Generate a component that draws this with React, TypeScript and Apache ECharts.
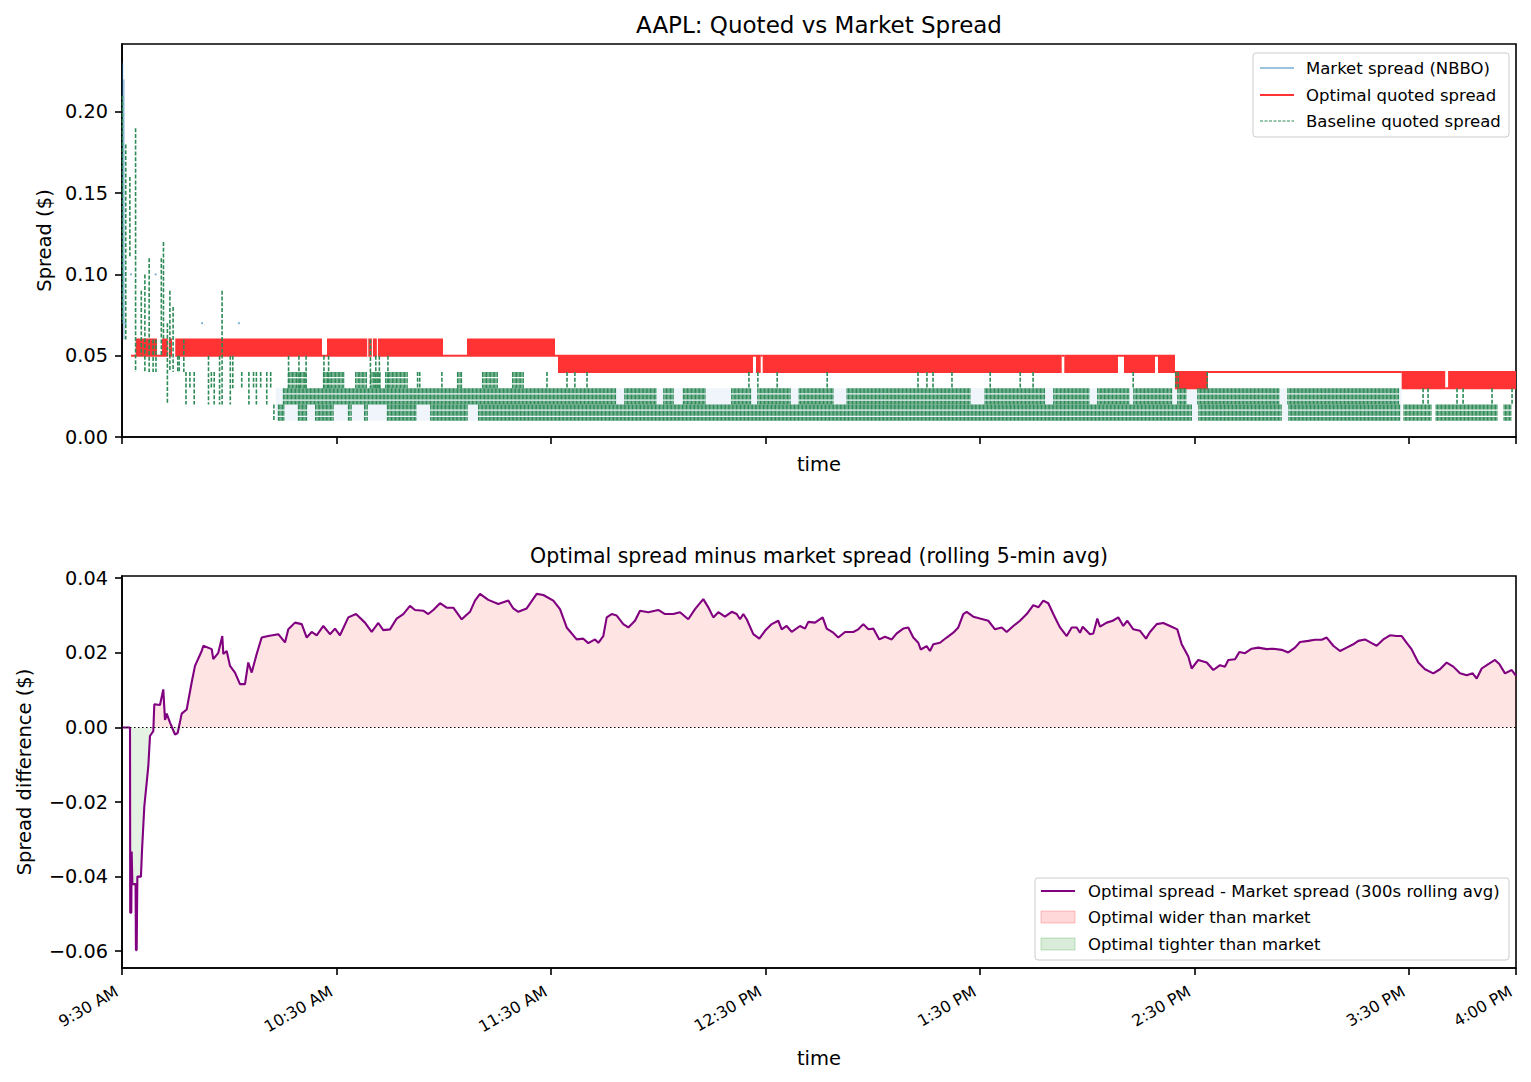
import React, { useEffect, useRef } from "react";
import * as echarts from "echarts";

const FONT = "'DejaVu Sans', 'Liberation Sans', sans-serif";

// Time is measured in minutes after the 9:30 open.
const sessionEnd = 390;
const timeTicks = [0, 60, 120, 180, 240, 300, 360, 390];
const timeTickLabels = ["9:30 AM", "10:30 AM", "11:30 AM", "12:30 PM", "1:30 PM", "2:30 PM", "3:30 PM", "4:00 PM"];
const spreadTicks = [0, 0.05, 0.1, 0.15, 0.2];
const diffTicks = [-0.06, -0.04, -0.02, 0, 0.02, 0.04];

// Optimal quoted spread: [start, end, low, high]. Where the quote flips between
// two ticks many times a second it reads as a band between the two levels.
const optimalRanges: number[][] = [
  [2.52, 3.83, 0.05, 0.05],
  [3.83, 9.79, 0.05, 0.06],
  [9.79, 11.19, 0.05, 0.05],
  [11.19, 12.8, 0.05, 0.06],
  [13.1, 14.0, 0.05, 0.06],
  [14.9, 55.95, 0.05, 0.06],
  [55.95, 57.35, 0.05, 0.05],
  [57.35, 68.6, 0.05, 0.06],
  [68.9, 69.9, 0.05, 0.06],
  [70.2, 71.3, 0.05, 0.06],
  [71.6, 89.81, 0.05, 0.06],
  [89.81, 96.52, 0.05, 0.05],
  [96.52, 121.14, 0.05, 0.06],
  [121.14, 121.98, 0.05, 0.05],
  [121.98, 176.53, 0.04, 0.05],
  [176.53, 177.37, 0.05, 0.05],
  [177.37, 178.69, 0.04, 0.05],
  [178.69, 179.25, 0.05, 0.05],
  [179.25, 262.9, 0.04, 0.05],
  [262.9, 263.63, 0.05, 0.05],
  [263.63, 278.65, 0.04, 0.05],
  [278.65, 280.33, 0.05, 0.05],
  [280.33, 289.0, 0.04, 0.05],
  [289.0, 289.84, 0.05, 0.05],
  [289.84, 294.6, 0.04, 0.05],
  [294.6, 303.83, 0.03, 0.04],
  [303.83, 358.02, 0.04, 0.04],
  [358.02, 370.2, 0.03, 0.04],
  [370.2, 371.0, 0.03, 0.03],
  [371.0, 390, 0.03, 0.04],
];

// Baseline quoted spread, stretches of rapid flipping: [start, end, low, high]
const baselineRanges: number[][] = [
  // 0.01 - 0.02
  [43.6, 45.6, 0.01, 0.02], [49.2, 51.8, 0.01, 0.02], [54.0, 59.6, 0.01, 0.02],
  [63.2, 64.4, 0.01, 0.02], [67.7, 68.8, 0.01, 0.02], [74.1, 82.5, 0.01, 0.02],
  [86.2, 96.8, 0.01, 0.02], [99.6, 299.7, 0.01, 0.02], [301.1, 324.8, 0.01, 0.02],
  [326.3, 357.6, 0.01, 0.02], [358.5, 366.5, 0.01, 0.02], [367.5, 385.0, 0.01, 0.02],
  [386.5, 389.0, 0.01, 0.02],
  // 0.02 - 0.03
  [45.0, 138.5, 0.02, 0.03], [140.5, 149.7, 0.02, 0.03], [151.4, 154.5, 0.02, 0.03],
  [156.9, 163.6, 0.02, 0.03], [170.4, 176.3, 0.02, 0.03], [177.7, 187.3, 0.02, 0.03],
  [189.3, 199.3, 0.02, 0.03], [202.7, 237.7, 0.02, 0.03], [241.3, 258.4, 0.02, 0.03],
  [260.5, 270.8, 0.02, 0.03], [272.8, 282.0, 0.02, 0.03], [282.9, 294.1, 0.02, 0.03],
  [295.2, 298.0, 0.02, 0.03], [300.8, 324.0, 0.02, 0.03], [326.0, 357.6, 0.02, 0.03],
  // 0.03 - 0.04
  [46.4, 52.0, 0.03, 0.04], [56.2, 62.4, 0.03, 0.04], [65.2, 68.8, 0.03, 0.04],
  [69.4, 72.7, 0.03, 0.04], [73.6, 80.0, 0.03, 0.04], [93.7, 95.4, 0.03, 0.04],
  [100.7, 105.2, 0.03, 0.04], [109.1, 112.8, 0.03, 0.04],
];

// Baseline quoted spread, isolated jumps: [time, low, high]
const baselineSpikes: number[][] = [
  [0.14, 0.07, 0.21], [1.05, 0.06, 0.18], [2.2, 0.11, 0.16], [3.8, 0.04, 0.19],
  [5.4, 0.05, 0.09], [6.4, 0.04, 0.1], [7.6, 0.04, 0.11], [8.7, 0.04, 0.06],
  [9.5, 0.04, 0.06], [11.0, 0.05, 0.11], [11.6, 0.06, 0.12], [12.7, 0.02, 0.07],
  [13.4, 0.04, 0.09], [14.3, 0.04, 0.08], [15.6, 0.04, 0.05], [16.0, 0.04, 0.05],
  [17.3, 0.04, 0.06], [17.9, 0.02, 0.04], [19.0, 0.03, 0.04], [20.2, 0.02, 0.04],
  [24.2, 0.02, 0.05], [25.0, 0.03, 0.04], [25.8, 0.02, 0.04], [27.3, 0.02, 0.05],
  [28.0, 0.02, 0.09], [30.3, 0.02, 0.05], [31.0, 0.03, 0.05], [33.5, 0.03, 0.04],
  [35.5, 0.02, 0.04], [36.8, 0.03, 0.04], [37.6, 0.02, 0.04], [38.8, 0.03, 0.04],
  [40.5, 0.02, 0.04], [41.6, 0.03, 0.04], [42.5, 0.01, 0.02],
  [46.6, 0.03, 0.05], [49.5, 0.03, 0.05], [51.5, 0.03, 0.05], [56.5, 0.03, 0.05],
  [57.8, 0.03, 0.05], [69.5, 0.03, 0.06], [71.0, 0.03, 0.05], [72.0, 0.03, 0.05],
  [74.4, 0.03, 0.05], [82.7, 0.03, 0.04], [83.3, 0.03, 0.04], [89.5, 0.03, 0.04],
  [118.9, 0.03, 0.04], [124.5, 0.03, 0.04], [126.7, 0.03, 0.04], [130.1, 0.03, 0.04],
  [175.4, 0.03, 0.04], [177.9, 0.03, 0.04], [183.3, 0.03, 0.04], [197.3, 0.03, 0.04],
  [222.7, 0.03, 0.04], [225.2, 0.03, 0.04], [226.9, 0.03, 0.04], [232.2, 0.03, 0.04],
  [242.9, 0.03, 0.04], [251.3, 0.03, 0.04], [254.9, 0.03, 0.04], [282.9, 0.03, 0.04],
  [294.8, 0.03, 0.04], [295.5, 0.03, 0.04], [303.6, 0.03, 0.04],
  [364.0, 0.02, 0.03], [365.4, 0.02, 0.03], [373.5, 0.02, 0.03], [375.2, 0.02, 0.03],
  [383.3, 0.02, 0.03], [388.9, 0.02, 0.03],
];

// Market NBBO spread: [start, end, low, high] and [time, low, high]
const marketRanges: number[][] = [[43.0, 358.0, 0.01, 0.03]];
const marketSpikes: number[][] = [
  [0.2, 0.07, 0.23], [0.55, 0.06, 0.22], [1.0, 0.07, 0.07], [2.5, 0.1, 0.1],
  [9.4, 0.1, 0.1], [22.4, 0.07, 0.07], [32.7, 0.07, 0.07],
];

// Optimal minus market spread, 300 s rolling mean: [time, $]
const rollingDiff: number[][] = [
  [0, 0], [2.24, 0], [2.3, -0.0497], [2.6, -0.0497], [2.7, -0.0333], [2.9, -0.042], [3.8, -0.042],
  [3.9, -0.0597], [4.1, -0.0597], [4.3, -0.04], [5.3, -0.04], [5.6, -0.033], [6.24, -0.0212],
  [6.91, -0.0148], [7.36, -0.0104], [7.83, -0.0023], [8.76, -0.001], [9.04, 0.0062], [10.63, 0.006],
  [11.55, 0.0102], [12.03, 0.002], [12.51, 0.0037], [13.43, 0.0013], [14.83, -0.0019], [15.58, -0.0015],
  [16.7, 0.0037], [18.1, 0.0048], [19.5, 0.0121], [20.42, 0.0165], [22.3, 0.0205], [22.75, 0.0219],
  [25.1, 0.021], [25.54, 0.0183], [26.94, 0.02], [28.06, 0.0245], [28.34, 0.0197], [29.29, 0.0205],
  [30.22, 0.0165], [31.61, 0.0147], [33.01, 0.0116], [34.41, 0.0116], [35.33, 0.0174], [36.29, 0.0147],
  [37.68, 0.0197], [39.08, 0.0241], [40.93, 0.0245], [43.73, 0.025], [45.6, 0.0228], [46.53, 0.0263],
  [48.4, 0.0281], [50.28, 0.0277], [51.67, 0.0241], [53.07, 0.0256], [54.47, 0.0247], [56.32, 0.0272],
  [58.19, 0.025], [59.59, 0.0265], [60.99, 0.0247], [63.31, 0.0295], [65.47, 0.0304], [67.98, 0.0281],
  [69.86, 0.0256], [71.7, 0.028], [73.1, 0.0261], [74.98, 0.0263], [76.85, 0.0292], [78.7, 0.0304],
  [80.57, 0.0326], [81.97, 0.0315], [84.29, 0.0313], [85.69, 0.0304], [87.09, 0.0315], [88.97, 0.0333],
  [90.84, 0.0321], [92.69, 0.0321], [95.04, 0.029], [97.36, 0.031], [98.76, 0.034], [100.16, 0.0358],
  [102.48, 0.0342], [105.28, 0.0331], [108.08, 0.034], [109.47, 0.0319], [110.87, 0.031], [113.22, 0.0319],
  [116.02, 0.0358], [117.87, 0.0355], [120.67, 0.034], [122.54, 0.0317], [124.41, 0.0268], [127.21, 0.0236],
  [129.06, 0.0238], [130.46, 0.0226], [132.33, 0.0236], [133.26, 0.0227], [134.65, 0.0245], [135.61, 0.0295],
  [137.0, 0.0304], [138.4, 0.03], [140.25, 0.0277], [141.65, 0.0268], [143.52, 0.0286], [144.92, 0.0313],
  [147.24, 0.0309], [150.04, 0.0315], [151.92, 0.0304], [154.24, 0.0304], [156.11, 0.0309], [158.43, 0.029],
  [160.31, 0.0317], [162.63, 0.0344], [164.03, 0.0322], [165.43, 0.0295], [166.83, 0.0309], [168.7, 0.0297],
  [170.58, 0.031], [171.98, 0.0304], [172.9, 0.029], [173.82, 0.0304], [174.77, 0.029], [176.62, 0.025],
  [178.3, 0.0238], [179.89, 0.0259], [181.77, 0.0277], [183.61, 0.0286], [184.56, 0.0263], [185.96, 0.0272],
  [187.36, 0.0256], [189.69, 0.0272], [191.09, 0.0265], [192.01, 0.0283], [193.88, 0.0281], [196.03, 0.0295],
  [197.15, 0.0265], [199.0, 0.0254], [200.4, 0.0241], [202.28, 0.0256], [204.6, 0.0256], [206.0, 0.0263],
  [207.4, 0.0277], [208.8, 0.0263], [210.19, 0.0265], [211.87, 0.0236], [213.46, 0.0243], [215.34, 0.0236],
  [216.74, 0.0252], [218.58, 0.0265], [219.98, 0.0268], [221.38, 0.0241], [222.78, 0.0227], [223.45, 0.0209],
  [225.13, 0.0218], [226.05, 0.0205], [226.98, 0.0223], [228.85, 0.0227], [230.72, 0.0241], [232.57, 0.0254],
  [233.97, 0.0268], [235.37, 0.0304], [236.32, 0.031], [238.17, 0.0297], [240.04, 0.0292], [242.37, 0.0286],
  [244.24, 0.0263], [246.12, 0.0268], [247.51, 0.0256], [249.36, 0.0272], [251.23, 0.0286], [253.11, 0.0304],
  [254.96, 0.0328], [256.36, 0.0322], [257.76, 0.034], [259.15, 0.0333], [260.55, 0.0304], [262.42, 0.0268],
  [264.3, 0.0245], [265.7, 0.0268], [267.1, 0.0268], [268.02, 0.0254], [268.78, 0.027], [270.82, 0.025],
  [271.74, 0.0252], [272.86, 0.0292], [273.62, 0.027], [275.49, 0.0281], [277.17, 0.0286], [278.74, 0.0295],
  [280.13, 0.0272], [281.25, 0.0286], [282.93, 0.0263], [284.81, 0.0259], [286.48, 0.0238], [287.6, 0.0256],
  [289.48, 0.0277], [291.32, 0.028], [293.2, 0.0272], [295.24, 0.0263], [296.47, 0.0223], [298.32, 0.019],
  [299.27, 0.0158], [301.12, 0.0181], [303.47, 0.0174], [305.32, 0.0154], [307.19, 0.0167], [308.59, 0.0163],
  [309.51, 0.0181], [311.39, 0.0183], [312.59, 0.0202], [314.18, 0.0199], [316.06, 0.0211], [317.9, 0.0214],
  [320.25, 0.021], [322.1, 0.0211], [324.45, 0.0208], [326.29, 0.0201], [328.17, 0.0214], [329.57, 0.0229],
  [331.89, 0.0232], [333.76, 0.0235], [335.64, 0.0235], [337.04, 0.0241], [338.88, 0.0219], [340.76, 0.0205],
  [342.63, 0.0214], [344.48, 0.0223], [345.88, 0.0232], [347.75, 0.0236], [349.62, 0.0226], [351.02, 0.0219],
  [352.87, 0.0236], [354.75, 0.0247], [356.62, 0.0245], [358.02, 0.0245], [359.42, 0.0227], [360.82, 0.0209],
  [362.67, 0.0174], [364.54, 0.0156], [366.86, 0.0145], [368.74, 0.0156], [370.61, 0.0174], [372.46, 0.0163],
  [374.33, 0.0145], [376.21, 0.014], [377.89, 0.0145], [379.01, 0.0131], [380.4, 0.0158], [382.25, 0.017],
  [384.12, 0.0181], [385.33, 0.017], [386.92, 0.0145], [388.8, 0.0154], [390, 0.0138],
];

const COLORS = {
  market: "rgba(31,119,180,0.6)",
  marketFill: "rgba(31,119,180,0.07)",
  optimal: "#ff3333",
  baseline: "#2e8b57",
  diff: "#800080",
  wider: "rgba(255,0,0,0.15)",
  widerEdge: "rgba(255,0,0,0.22)",
  tighter: "rgba(0,128,0,0.15)",
  tighterEdge: "rgba(0,128,0,0.22)",
};

const fmtDollar = (v: number) => {
  const s = Math.abs(v).toFixed(2);
  return v < -1e-9 ? "\u2212" + s : s;
};

// Band between two levels over a time span; zero-height spans become a plain line.
const bandRenderer = (fill: string, opacity: number, edge: number) => (_p: any, api: any) => {
  const a = api.coord([api.value(0), api.value(3)]);
  const b = api.coord([api.value(1), api.value(2)]);
  return {
    type: "rect",
    shape: { x: a[0], y: a[1] - edge / 2, width: Math.max(b[0] - a[0], 1), height: b[1] - a[1] + edge },
    style: { fill, opacity },
  };
};

// A stretch of rapid flipping drawn as a comb of dashed vertical jumps.
const combRenderer = (stroke: string, step: number, width: number, dash: number[]) => (_p: any, api: any) => {
  const a = api.coord([api.value(0), api.value(3)]);
  const b = api.coord([api.value(1), api.value(2)]);
  const children: any[] = [];
  for (let x = a[0] + width / 2; x <= b[0] - width / 2 + 0.01; x += step) {
    children.push({
      type: "line",
      shape: { x1: x, y1: a[1], x2: x, y2: b[1] },
      style: { stroke, lineWidth: width, lineDash: dash },
    });
  }
  if (!children.length) {
    children.push({
      type: "line",
      shape: { x1: a[0], y1: a[1], x2: a[0], y2: b[1] },
      style: { stroke, lineWidth: width, lineDash: dash },
    });
  }
  return { type: "group", children };
};

// Vertical jump between two levels at a single instant.
const spikeRenderer = (stroke: string, width: number, dash: number[] | null) => (_p: any, api: any) => {
  const top = api.coord([api.value(0), api.value(2)]);
  const bot = api.coord([api.value(0), api.value(1)]);
  if (Math.abs(bot[1] - top[1]) < 1) {
    return { type: "circle", shape: { cx: top[0], cy: top[1], r: 1 }, style: { fill: stroke } };
  }
  return {
    type: "line",
    shape: { x1: top[0], y1: top[1], x2: bot[0], y2: bot[1] },
    style: { stroke, lineWidth: width, lineDash: dash || undefined },
  };
};

const tickText = { fontSize: 19.3, fontFamily: FONT, color: "#000" };
const nameText = { fontSize: 19.5, fontFamily: FONT, color: "#000" };
const spine = { color: "#000", width: 1.6 };

function timeAxis(gridIndex: number, showLabels: boolean, nameGap: number) {
  return {
    type: "value",
    gridIndex,
    min: 0,
    max: sessionEnd,
    name: "time",
    nameLocation: "middle",
    nameGap,
    nameTextStyle: nameText,
    axisLine: { show: true, onZero: false, lineStyle: spine },
    axisTick: { show: true, inside: false, length: 7, lineStyle: spine, customValues: timeTicks },
    axisLabel: showLabels
      ? {
          show: true,
          customValues: timeTicks,
          rotate: 30,
          margin: 19,
          padding: [0, 6, 0, 0],
          fontSize: 16,
          fontFamily: FONT,
          color: "#000",
          formatter: (v: number) => {
            const i = timeTicks.findIndex((t) => Math.abs(t - v) < 1e-6);
            return i >= 0 ? timeTickLabels[i] : "";
          },
        }
      : { show: false },
    splitLine: { show: false },
  };
}

function valueAxis(gridIndex: number, min: number, max: number, ticks: number[], name: string, nameGap: number) {
  return {
    type: "value",
    gridIndex,
    min,
    max,
    name,
    nameLocation: "middle",
    nameGap,
    nameTextStyle: nameText,
    axisLine: { show: true, onZero: false, lineStyle: spine },
    axisTick: { show: true, inside: false, length: 7, lineStyle: spine, customValues: ticks },
    axisLabel: { show: true, customValues: ticks, margin: 14, ...tickText, formatter: (v: number) => fmtDollar(v) },
    splitLine: { show: false },
  };
}

function legendBox(x: number, y: number, w: number, h: number) {
  return {
    type: "rect",
    shape: { x, y, width: w, height: h, r: 3 },
    style: { fill: "rgba(255,255,255,0.8)", stroke: "#cccccc", lineWidth: 1 },
    z: 100,
  };
}

function legendText(x: number, y: number, text: string) {
  return {
    type: "text",
    x,
    y,
    z: 101,
    style: {
      text,
      fill: "#000",
      fontSize: 16.5,
      fontFamily: FONT,
      textAlign: "left",
      textVerticalAlign: "middle",
      align: "left",
      verticalAlign: "middle",
    },
  };
}

function legendLine(x: number, y: number, stroke: string, width: number, dash?: number[]) {
  return {
    type: "line",
    z: 101,
    shape: { x1: x, y1: y, x2: x + 34, y2: y },
    style: { stroke, lineWidth: width, lineDash: dash },
  };
}

function legendPatch(x: number, y: number, fill: string, stroke: string) {
  return {
    type: "rect",
    z: 101,
    shape: { x, y: y - 6, width: 34, height: 12 },
    style: { fill, stroke, lineWidth: 1 },
  };
}

function titleText(x: number, y: number, text: string, size: number) {
  return {
    type: "text",
    x,
    y,
    style: {
      text,
      fill: "#000",
      fontSize: size,
      fontFamily: FONT,
      textAlign: "center",
      textVerticalAlign: "middle",
      align: "center",
      verticalAlign: "middle",
    },
  };
}

function buildOption() {
  const wider = rollingDiff.map(([t, v]) => [t, Math.max(v, 0)]);
  const tighter = rollingDiff.map(([t, v]) => [t, Math.min(v, 0)]);

  return {
    animation: false,
    backgroundColor: "#fff",
    textStyle: { fontFamily: FONT },
    grid: [
      { left: 122, top: 44, width: 1394, height: 393, show: true, borderColor: "#000", borderWidth: 1.6, backgroundColor: "transparent" },
      { left: 122, top: 576, width: 1394, height: 392, show: true, borderColor: "#000", borderWidth: 1.6, backgroundColor: "transparent" },
    ],
    xAxis: [timeAxis(0, false, 17), timeAxis(1, true, 80)],
    yAxis: [
      valueAxis(0, 0, 0.2418, spreadTicks, "Spread ($)", 68),
      valueAxis(1, -0.0645, 0.0406, diffTicks, "Spread difference ($)", 88),
    ],
    series: [
      {
        type: "custom",
        name: "Market spread (NBBO)",
        xAxisIndex: 0,
        yAxisIndex: 0,
        data: marketRanges,
        encode: { x: [0, 1], y: [2, 3] },
        renderItem: bandRenderer(COLORS.marketFill, 1, 0),
        silent: true,
        z: 1,
      },
      {
        type: "custom",
        name: "Market spread (NBBO)",
        xAxisIndex: 0,
        yAxisIndex: 0,
        data: marketSpikes,
        encode: { x: 0, y: [1, 2] },
        renderItem: spikeRenderer(COLORS.market, 1, null),
        silent: true,
        z: 1,
      },
      {
        type: "custom",
        name: "Optimal quoted spread",
        xAxisIndex: 0,
        yAxisIndex: 0,
        data: optimalRanges,
        encode: { x: [0, 1], y: [2, 3] },
        renderItem: bandRenderer(COLORS.optimal, 1, 2),
        silent: true,
        z: 2,
      },
      {
        type: "custom",
        name: "Baseline quoted spread",
        xAxisIndex: 0,
        yAxisIndex: 0,
        data: baselineRanges,
        encode: { x: [0, 1], y: [2, 3] },
        renderItem: combRenderer(COLORS.baseline, 1.35, 1.15, [5, 1.3]),
        silent: true,
        z: 3,
      },
      {
        type: "custom",
        name: "Baseline quoted spread",
        xAxisIndex: 0,
        yAxisIndex: 0,
        data: baselineSpikes,
        encode: { x: 0, y: [1, 2] },
        renderItem: spikeRenderer(COLORS.baseline, 1.6, [4, 1.8]),
        silent: true,
        z: 3,
      },
      {
        type: "line",
        name: "Optimal wider than market",
        xAxisIndex: 1,
        yAxisIndex: 1,
        data: wider,
        showSymbol: false,
        symbol: "none",
        lineStyle: { width: 0, opacity: 0 },
        areaStyle: { color: COLORS.wider, origin: 0 },
        silent: true,
        z: 1,
      },
      {
        type: "line",
        name: "Optimal tighter than market",
        xAxisIndex: 1,
        yAxisIndex: 1,
        data: tighter,
        showSymbol: false,
        symbol: "none",
        lineStyle: { width: 0, opacity: 0 },
        areaStyle: { color: COLORS.tighter, origin: 0 },
        silent: true,
        z: 1,
      },
      {
        type: "line",
        name: "Optimal spread - Market spread (300s rolling avg)",
        xAxisIndex: 1,
        yAxisIndex: 1,
        data: rollingDiff,
        showSymbol: false,
        symbol: "none",
        lineStyle: { color: COLORS.diff, width: 2.1 },
        silent: true,
        z: 3,
        markLine: {
          silent: true,
          symbol: "none",
          label: { show: false },
          lineStyle: { color: "#000", width: 1, type: [1.5, 2.5] },
          data: [{ yAxis: 0 }],
        },
      },
    ],
    graphic: [
      titleText(819, 25, "AAPL: Quoted vs Market Spread", 23),
      titleText(819, 556, "Optimal spread minus market spread (rolling 5-min avg)", 20.5),

      legendBox(1253, 53, 256, 84),
      legendLine(1260, 68, COLORS.market, 1.3),
      legendText(1306, 68, "Market spread (NBBO)"),
      legendLine(1260, 95, COLORS.optimal, 2),
      legendText(1306, 95, "Optimal quoted spread"),
      legendLine(1260, 121, COLORS.baseline, 1, [3, 1.5]),
      legendText(1306, 121, "Baseline quoted spread"),

      legendBox(1035, 878, 474, 82),
      legendLine(1041, 891, COLORS.diff, 2),
      legendText(1088, 891, "Optimal spread - Market spread (300s rolling avg)"),
      legendPatch(1041, 917, COLORS.wider, COLORS.widerEdge),
      legendText(1088, 917, "Optimal wider than market"),
      legendPatch(1041, 944, COLORS.tighter, COLORS.tighterEdge),
      legendText(1088, 944, "Optimal tighter than market"),
    ],
  };
}

export default function App() {
  const ref = useRef<HTMLDivElement>(null);
  useEffect(() => {
    if (!ref.current) return;
    const chart = echarts.init(ref.current, null, { renderer: "svg", width: 1531, height: 1082 });
    chart.setOption(buildOption() as any);
    return () => chart.dispose();
  }, []);
  return (
    <div
      ref={ref}
      style={{ position: "fixed", left: 0, top: 0, width: 1531, height: 1082, background: "#fff" }}
    />
  );
}
